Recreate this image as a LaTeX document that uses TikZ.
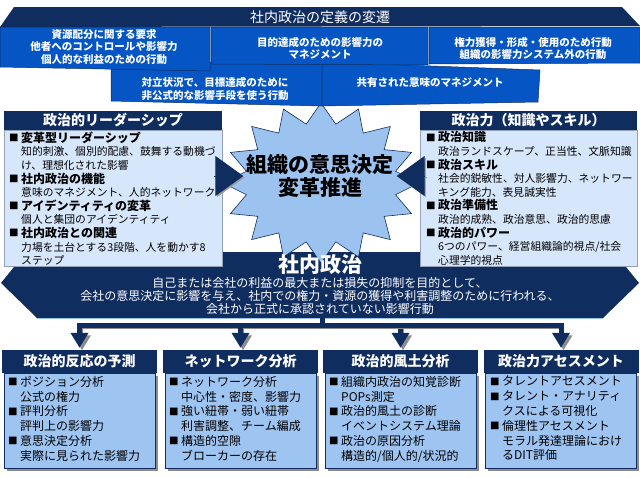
\documentclass[tikz,border=0pt]{standalone}
\usepackage{fontspec}
\setmainfont{Noto Sans CJK JP}
\usetikzlibrary{arrows.meta,shadows}
\definecolor{navy}{HTML}{102D60}
\definecolor{ribbonblue}{HTML}{0556C4}
\definecolor{panelblue}{HTML}{D7E7FB}
\definecolor{lowblue}{HTML}{9EC4F2}
\definecolor{burstblue}{HTML}{9CC3F0}
\newcommand{\bitem}[1]{\makebox[12pt][l]{\raisebox{0.6pt}{\fontsize{9.5}{9.5}\selectfont■}}#1}
\newcommand{\bcont}[1]{\hspace*{12pt}#1}
\newcommand{\bhead}[1]{{\fontsize{12}{13.6}\selectfont\bfseries\bitem{#1}}}

\begin{document}
\begin{tikzpicture}[x=1pt,y=-1pt]
\tikzstyle{ribbon}=[fill=ribbonblue,draw=navy,line width=0.5pt]
\tikzstyle{ribtext}=[text=white,font=\fontsize{10.5}{12.5}\selectfont\bfseries,align=center,inner sep=0pt]
\tikzstyle{head}=[fill=navy,text=white,font=\fontsize{14}{16}\selectfont\bfseries,inner sep=0pt]
\tikzstyle{panel}=[fill=panelblue,draw=navy!45,line width=0.5pt,inner sep=0pt]
\tikzstyle{paneltext}=[font=\fontsize{10.8}{13.6}\selectfont,align=left,inner sep=0pt,anchor=north west]
\tikzstyle{lowbody}=[fill=lowblue,draw=navy,line width=0.6pt,inner sep=0pt,drop shadow={shadow xshift=2.5pt,shadow yshift=-2.5pt,fill=gray!90,opacity=1}]
\tikzstyle{lowtext}=[font=\fontsize{12}{14.8}\selectfont,align=left,inner sep=0pt,anchor=north west]
\tikzstyle{fat}=[navy,line width=5pt,preaction={draw=gray!90,transform canvas={xshift=2.5pt,yshift=-2.5pt}}]
\tikzstyle{pusharrow}=[navy,line width=1pt,-{Triangle[length=28pt,width=40pt]},shorten >=3pt,preaction={draw=gray!80,transform canvas={xshift=1.5pt,yshift=-1.5pt}}]
\useasboundingbox (0,0) rectangle (640,477);
\fill[white] (0,0) rectangle (640,477);
% definition of company politics
\fill[navy] (1,283) -- (14,267) -- (14,252) -- (626,252) -- (626,267) -- (639,283) -- (603,318) -- (37,318) -- cycle;
\draw[burstblue,line width=1.2pt] (37,318.6) -- (603,318.6);
% decision making burst
\filldraw[fill=burstblue,draw=navy,line width=0.6pt] (321,103) \foreach \k in {1,...,31}{ -- ({321+(98-22*mod(\k,2))*sin(11.25*\k)},{183-(80-20*mod(\k,2))*cos(11.25*\k)}) } -- cycle;
% changing definitions
\filldraw[ribbon] (111,62) -- (322,62) -- (322,106) -- (111,101) -- cycle;
\filldraw[ribbon] (322,62) -- (540,70) -- (538,102) -- (322,106) -- cycle;
\filldraw[ribbon] (0,27) -- (210,27) -- (210,71) -- (0,67) -- cycle;
\filldraw[ribbon] (211,27) -- (428,27) -- (428,65) -- (211,64) -- cycle;
\filldraw[ribbon] (429,27) -- (640,27) -- (640,63) -- (429,64) -- cycle;
\fill[navy] (0,27) -- (14,7) -- (622,7) -- (640,26) -- cycle;
\node[text=white,font=\fontsize{14}{16}\selectfont] (deftitle) at (320,17) {社内政治の定義の変遷};
\node[ribtext] (defres) at (104,47) {資源配分に関する要求\\他者へのコントロールや影響力\\個人的な利益のための行動};
\node[ribtext] (defgoal) at (320,48.5) {目的達成のための影響力の\\マネジメント};
\node[ribtext] (defpower) at (533,48.5) {権力獲得・形成・使用のため行動\\組織の影響力システム外の行動};
\node[ribtext] (defconf) at (215,89) {対立状況で、目標達成のために\\非公式的な影響手段を使う行動};
\node[ribtext] (defmean) at (430,83) {共有された意味のマネジメント};
% leadership and political skill
\node[head,minimum width=218pt,minimum height=19pt] (lphead) at (113,120.5) {政治的リーダーシップ};
\node[panel,minimum width=218pt,minimum height=136pt,anchor=north] (lpbody) at (lphead.south) {};
\node[paneltext] (lplist) at (9,131.5) {\bhead{変革型リーダーシップ}\\
\bcont{知的刺激、個別的配慮、鼓舞する動機づ}\\
\bcont{け、理想化された影響}\\
\bhead{社内政治の機能}\\
\bcont{意味のマネジメント、人的ネットワーク}\\
\bhead{アイデンティティの変革}\\
\bcont{個人と集団のアイデンティティ}\\
\bhead{社内政治との関連}\\
\bcont{力場を土台とする3段階、人を動かす8}\\
\bcont{ステップ}};
\node[head,minimum width=217pt,minimum height=19pt] (rphead) at (528.5,120.5) {政治力（知識やスキル）};
\node[panel,minimum width=217pt,minimum height=136pt,anchor=north] (rpbody) at (rphead.south) {};
\node[paneltext] (rplist) at (426,131.5) {\bhead{政治知識}\\
\bcont{政治ランドスケープ、正当性、文脈知識}\\
\bhead{政治スキル}\\
\bcont{社会的鋭敏性、対人影響力、ネットワー}\\
\bcont{キング能力、表見誠実性}\\
\bhead{政治準備性}\\
\bcont{政治的成熟、政治意思、政治的思慮}\\
\bhead{政治的パワー}\\
\bcont{6つのパワー、経営組織論的視点/社会}\\
\bcont{心理学的視点}};
\node[font=\fontsize{21}{23}\selectfont\bfseries,align=center,inner sep=0pt] (kernel) at (320,176) {組織の意思決定\\変革推進};
\coordinate (lpin) at (214,176);
\coordinate (rpin) at (424,176);
\draw[pusharrow] (lpin) -- (kernel.west);
\draw[pusharrow] (rpin) -- (kernel.east);
\node[text=white,font=\fontsize{21}{23}\selectfont\bfseries,inner sep=0pt] (polnode) at (320,265) {社内政治};
\node[text=white,font=\fontsize{12}{13}\selectfont,align=center,inner sep=0pt] (hexnote) at (320,296) {自己または会社の利益の最大または損失の抑制を目的として、\\会社の意思決定に影響を与え、社内での権力・資源の獲得や利害調整のために行われる、\\会社から正式に承認されていない影響行動};
% analysis methods
\node[head,minimum width=155pt,minimum height=23pt] (resphead) at (79.5,361.5) {政治的反応の予測};
\node[lowbody,minimum width=151pt,minimum height=95pt,anchor=north] (respbody) at (resphead.south) {};
\node[lowtext] (resplist) at (8,376) {\bitem{ポジション分析}\\ \bcont{公式の権力}\\ \bitem{評判分析}\\ \bcont{評判上の影響力}\\ \bitem{意思決定分析}\\ \bcont{実際に見られた影響力}};
\node[head,minimum width=155pt,minimum height=23pt] (nethead) at (240.5,361.5) {ネットワーク分析};
\node[lowbody,minimum width=151pt,minimum height=95pt,anchor=north] (netbody) at (nethead.south) {};
\node[lowtext] (netlist) at (169,376) {\bitem{ネットワーク分析}\\ \bcont{中心性・密度、影響力}\\ \bitem{強い紐帯・弱い紐帯}\\ \bcont{利害調整、チーム編成}\\ \bitem{構造的空隙}\\ \bcont{ブローカーの存在}};
\node[head,minimum width=155pt,minimum height=23pt] (climhead) at (400.5,361.5) {政治的風土分析};
\node[lowbody,minimum width=151pt,minimum height=95pt,anchor=north] (climbody) at (climhead.south) {};
\node[lowtext] (climlist) at (329,376) {\bitem{組織内政治の知覚診断}\\ \bcont{POPs測定}\\ \bitem{政治的風土の診断}\\ \bcont{イベントシステム理論}\\ \bitem{政治の原因分析}\\ \bcont{構造的/個人的/状況的}};
\node[head,minimum width=155pt,minimum height=23pt] (assehead) at (561,361.5) {政治力アセスメント};
\node[lowbody,minimum width=151pt,minimum height=95pt,anchor=north] (assebody) at (assehead.south) {};
\node[lowtext] (asselist) at (490,376) {\bitem{タレントアセスメント}\\ \bitem{タレント・アナリティ}\\ \bcont{クスによる可視化}\\ \bitem{倫理性アセスメント}\\ \bcont{モラル発達理論におけ}\\ \bcont{るDIT評価}};
\coordinate (hexbase) at (322,318);
\coordinate (fork) at (322,325.5);
\draw[fat] (hexbase) -- (fork);
\draw[fat,-{Triangle[length=15pt,width=17pt]},shorten >=2pt] (fork) -| (resphead.north);
\draw[fat,-{Triangle[length=15pt,width=17pt]},shorten >=2pt] (fork) -| (nethead.north);
\draw[fat,-{Triangle[length=15pt,width=17pt]},shorten >=2pt] (fork) -| (climhead.north);
\draw[fat,-{Triangle[length=15pt,width=17pt]},shorten >=2pt] (fork) -| (assehead.north);
\end{tikzpicture}
\end{document}
